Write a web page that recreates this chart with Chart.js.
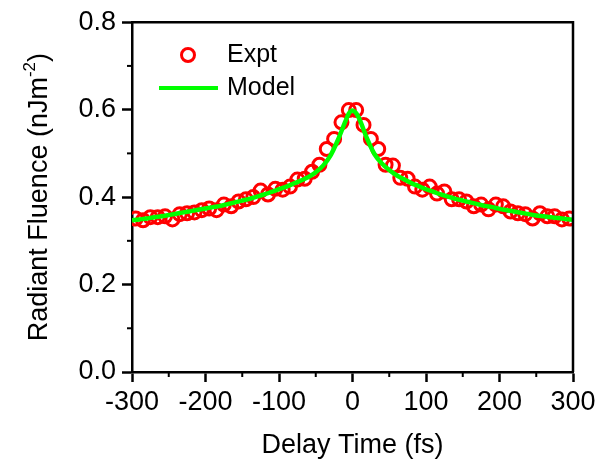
<!DOCTYPE html>
<html>
<head>
<meta charset="utf-8">
<script src="https://cdn.jsdelivr.net/npm/chart.js@4.4.1/dist/chart.umd.min.js"></script>
<style>
    body { margin: 0; background: #fff; }
</style>
</head>
<body>
<canvas id="fluenceChart" width="613" height="470"></canvas>
<script>
// Experimental points (delay time in fs, fluence in nJ/m^2)
const exptTime = [
    -295, -285, -275, -265, -255, -245, -235, -225, -215, -205,
    -195, -185, -175, -165, -155, -145, -135, -125, -115, -105,
    -95, -85, -75, -65, -55, -45, -35, -25, -15, -5,
    5, 15, 25, 35, 45, 55, 65, 75, 85, 95,
    105, 115, 125, 135, 145, 155, 165, 175, 185, 195,
    205, 215, 225, 235, 245, 255, 265, 275, 285, 295
];
const exptFluence = [
    0.351, 0.347, 0.354, 0.354, 0.356, 0.349, 0.361, 0.363, 0.365, 0.370,
    0.374, 0.370, 0.383, 0.379, 0.390, 0.395, 0.400, 0.415, 0.406, 0.419,
    0.417, 0.424, 0.440, 0.442, 0.458, 0.474, 0.510, 0.533, 0.571, 0.599,
    0.599, 0.565, 0.533, 0.510, 0.474, 0.472, 0.444, 0.442, 0.424, 0.417,
    0.424, 0.408, 0.413, 0.395, 0.395, 0.390, 0.379, 0.383, 0.372, 0.383,
    0.379, 0.367, 0.363, 0.361, 0.351, 0.363, 0.356, 0.356, 0.349, 0.351
];

// Model curve
const modelTime = [
    -300, -290, -280, -270, -260, -250, -240, -230, -220, -210,
    -200, -190, -180, -170, -160, -150, -140, -130, -120, -110,
    -100, -90, -80, -70, -60, -50, -40, -30, -20, -10, -5,
    0,
    5, 10, 20, 30, 40, 50, 60, 70, 80, 90, 100,
    110, 120, 130, 140, 150, 160, 170, 180, 190, 200,
    210, 220, 230, 240, 250, 260, 270, 280, 290, 300
];
const modelFluence = [
    0.347, 0.349, 0.351, 0.354, 0.356, 0.359, 0.362, 0.365, 0.368, 0.371,
    0.374, 0.377, 0.380, 0.384, 0.388, 0.392, 0.396, 0.401, 0.406, 0.412,
    0.418, 0.424, 0.431, 0.438, 0.446, 0.457, 0.472, 0.495, 0.530, 0.572, 0.591,
    0.598,
    0.592, 0.576, 0.533, 0.498, 0.477, 0.462, 0.450, 0.441, 0.432, 0.425, 0.418,
    0.412, 0.406, 0.401, 0.396, 0.392, 0.388, 0.384, 0.380, 0.377, 0.373,
    0.370, 0.367, 0.364, 0.361, 0.358, 0.356, 0.354, 0.352, 0.350, 0.348
];

const xTicks = [-300, -200, -100, 0, 100, 200, 300];
const xMinorTicks = [-250, -150, -50, 50, 150, 250];
const yMinorTicks = [0.1, 0.3, 0.5, 0.7];

const FONT = "'Liberation Sans', Arial, sans-serif";

// frame, minor ticks, axis titles and legend
const extrasPlugin = {
    id: "extras",
    afterDraw(chart) {
        const ctx = chart.ctx;
        const area = chart.chartArea;
        const xs = chart.scales.x;
        const ys = chart.scales.y;

        ctx.save();
        ctx.strokeStyle = "#000";
        ctx.lineWidth = 2.5;
        ctx.beginPath();
        ctx.moveTo(area.left, area.top);
        ctx.lineTo(area.right, area.top);
        ctx.lineTo(area.right, area.bottom);
        ctx.stroke();

        // minor ticks
        ctx.lineWidth = 2;
        xMinorTicks.forEach(v => {
            const px = xs.getPixelForValue(v);
            ctx.beginPath();
            ctx.moveTo(px, area.bottom);
            ctx.lineTo(px, area.bottom + 5);
            ctx.stroke();
        });
        yMinorTicks.forEach(v => {
            const py = ys.getPixelForValue(v);
            ctx.beginPath();
            ctx.moveTo(area.left, py);
            ctx.lineTo(area.left - 5, py);
            ctx.stroke();
        });

        // x title
        ctx.fillStyle = "#000";
        ctx.font = "27px " + FONT;
        ctx.textAlign = "center";
        ctx.textBaseline = "middle";
        ctx.fillText("Delay Time (fs)", (area.left + area.right) / 2, 446);

        // y title with superscript
        const main = "Radiant Fluence (nJm";
        const sup = "-2";
        const tail = ")";
        ctx.font = "27px " + FONT;
        const wMain = ctx.measureText(main).width;
        const wTail = ctx.measureText(tail).width;
        ctx.font = "17px " + FONT;
        const wSup = ctx.measureText(sup).width;
        const total = wMain + wSup + wTail;
        ctx.translate(40, (area.top + area.bottom) / 2);
        ctx.rotate(-Math.PI / 2);
        ctx.textAlign = "left";
        ctx.textBaseline = "middle";
        let x0 = -total / 2;
        ctx.font = "27px " + FONT;
        ctx.fillText(main, x0, 0);
        ctx.font = "17px " + FONT;
        ctx.fillText(sup, x0 + wMain, -10);
        ctx.font = "27px " + FONT;
        ctx.fillText(tail, x0 + wMain + wSup, 0);
        ctx.restore();

        // legend
        ctx.save();
        ctx.strokeStyle = "#ff0000";
        ctx.lineWidth = 3;
        ctx.beginPath();
        ctx.arc(188, 55, 6.5, 0, Math.PI * 2);
        ctx.stroke();
        ctx.strokeStyle = "#00ff00";
        ctx.lineWidth = 4;
        ctx.beginPath();
        ctx.moveTo(159, 88);
        ctx.lineTo(218, 88);
        ctx.stroke();
        ctx.fillStyle = "#000";
        ctx.font = "25px " + FONT;
        ctx.textAlign = "left";
        ctx.textBaseline = "middle";
        ctx.fillText("Expt", 227, 55);
        ctx.fillText("Model", 227, 88);
        ctx.restore();
    }
};

const ctx = document.getElementById("fluenceChart").getContext("2d");

new Chart(ctx, {
    type: "scatter",
    data: {
        datasets: [
            {
                label: "Model",
                type: "line",
                data: modelTime.map((t, i) => ({ x: t, y: modelFluence[i] })),
                borderColor: "#00ff00",
                borderWidth: 4.5,
                pointRadius: 0,
                fill: false,
                cubicInterpolationMode: "monotone"
            },
            {
                label: "Expt",
                data: exptTime.map((t, i) => ({ x: t, y: exptFluence[i] })),
                borderColor: "#ff0000",
                backgroundColor: "rgba(0,0,0,0)",
                borderWidth: 3,
                pointRadius: 6.5,
                pointHoverRadius: 6.5
            }
        ]
    },
    options: {
        responsive: false,
        animation: false,
        layout: {
            padding: { top: 19, right: 40, left: 0, bottom: 0 }
        },
        plugins: {
            legend: { display: false },
            tooltip: { enabled: false }
        },
        scales: {
            x: {
                type: "linear",
                min: -300,
                max: 300,
                afterFit: scale => { scale.height = 98; },
                afterBuildTicks: scale => {
                    scale.ticks = xTicks.map(v => ({ value: v }));
                },
                ticks: {
                    color: "#000",
                    font: { family: FONT, size: 27 },
                    padding: 4,
                    maxRotation: 0
                },
                grid: {
                    drawOnChartArea: false,
                    tickLength: 10,
                    tickWidth: 2.5,
                    tickColor: "#000"
                },
                border: { color: "#000", width: 2.5 }
            },
            y: {
                min: 0,
                max: 0.8,
                afterFit: scale => { scale.width = 132; },
                ticks: {
                    stepSize: 0.2,
                    color: "#000",
                    font: { family: FONT, size: 27 },
                    padding: 6,
                    callback: v => v.toFixed(1)
                },
                grid: {
                    drawOnChartArea: false,
                    tickLength: 10,
                    tickWidth: 2.5,
                    tickColor: "#000"
                },
                border: { color: "#000", width: 2.5 }
            }
        }
    },
    plugins: [extrasPlugin]
});
</script>
</body>
</html>
